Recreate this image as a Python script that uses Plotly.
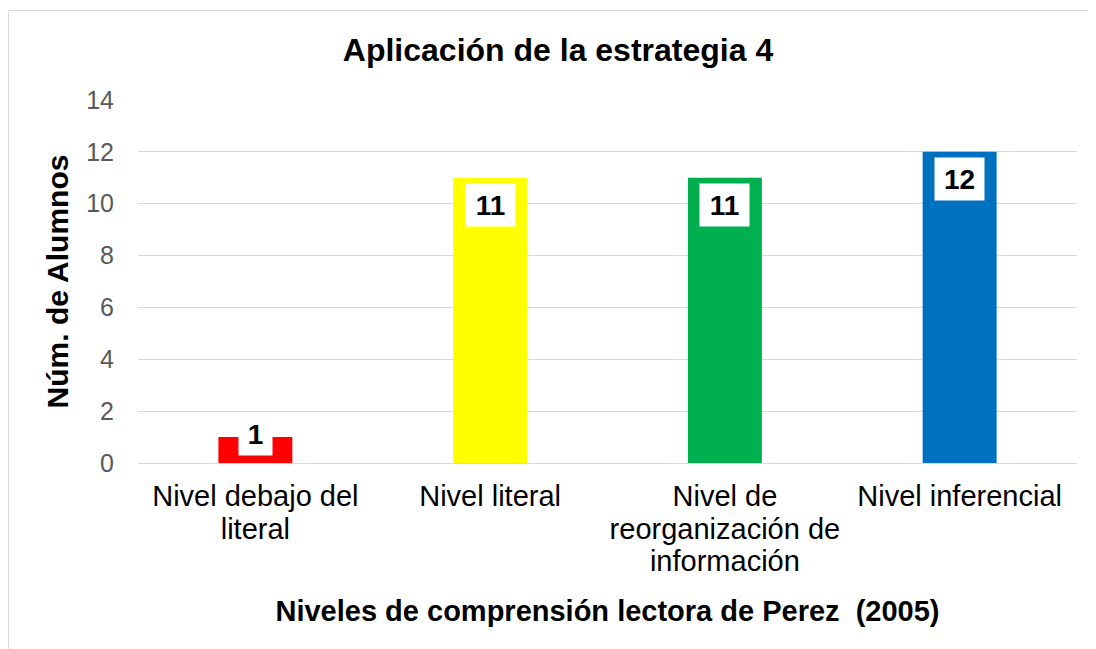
import plotly.graph_objects as go

categories = ["Nivel debajo del literal", "Nivel literal",
              "Nivel de reorganización de información", "Nivel inferencial"]
tick_lines = [["Nivel debajo del", "literal"], ["Nivel literal"],
              ["Nivel de", "reorganización de", "información"], ["Nivel inferencial"]]
values = [1, 11, 11, 12]
colors = ["#FF0000", "#FFFF00", "#00B050", "#0070C0"]
y_ticks = [0, 2, 4, 6, 8, 10, 12, 14]

FONT = "Liberation Sans, Arial, sans-serif"
tick_text = ["<br>".join(f'<span style="font-size:29px">{ln}</span>' for ln in lines)
             for lines in tick_lines]

fig = go.Figure()
fig.add_trace(go.Bar(x=categories, y=values, marker=dict(color=colors, line=dict(width=0)),
                     width=0.315, hoverinfo="skip"))

for c, v in zip(categories, values):
    if v >= 3:
        ann = dict(x=c, y=v, yanchor="top", yshift=-5)
    else:
        ann = dict(x=c, y=0, yanchor="bottom", yshift=7)
    fig.add_annotation(**ann, text=f"<b>{v}</b>", showarrow=False,
                       bgcolor="white", borderpad=4,
                       width=41 if v >= 10 else 25, height=34,
                       font=dict(family=FONT, size=28, color="black"))

# chart-area border (page has 8px body margin, so figure is shifted by 8px)
fig.add_shape(type="rect", xref="paper", yref="paper",
              x0=(0.5 - 130) / 939, x1=(1110 - 130) / 939,
              y0=(455 - 660) / 363, y1=(455 - 2.5) / 363,
              line=dict(color="#d9d9d9", width=1), layer="below")

fig.update_layout(
    width=1088, height=641,
    margin=dict(l=130, r=19, t=92, b=186),
    paper_bgcolor="white", plot_bgcolor="white",
    showlegend=False,
    title=dict(text="<b>Aplicación de la estrategia 4</b>", x=550 / 1088, xanchor="center",
               y=1 - 42 / 641, yanchor="middle",
               font=dict(family=FONT, size=32, color="black")),
    font=dict(family=FONT),
)
fig.update_xaxes(tickmode="array", tickvals=categories, ticktext=tick_text,
                 tickfont=dict(family=FONT, size=25, color="black"),
                 showline=False, showgrid=False, ticks="", ticklabelstandoff=17,
                 title=dict(text="<b>Niveles de comprensión lectora de Perez  (2005)</b>",
                            font=dict(family=FONT, size=29, color="black"), standoff=24))
fig.update_yaxes(range=[0, 14], tickvals=y_ticks, showgrid=True, gridcolor="#d9d9d9", gridwidth=1,
                 zeroline=True, zerolinecolor="#d9d9d9", zerolinewidth=1,
                 tickfont=dict(family=FONT, size=25, color="#595959"), ticks="", ticklabelstandoff=23,
                 title=dict(text="<b>Núm. de Alumnos</b>",
                            font=dict(family=FONT, size=30, color="black"), standoff=8))

fig.write_html("out.html")
